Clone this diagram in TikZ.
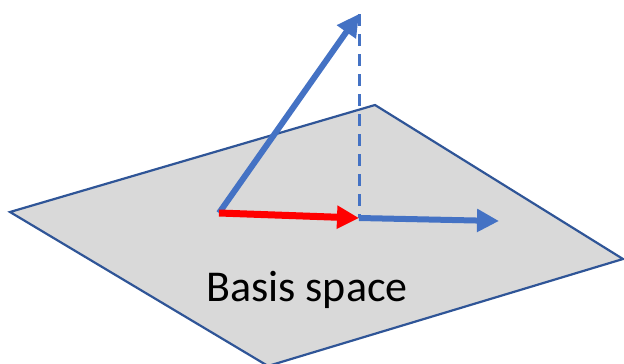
\documentclass[tikz,border=0pt]{standalone}
\usepackage{fontspec}
\setmainfont{Carlito}
\usetikzlibrary{arrows.meta}
\definecolor{vecblue}{HTML}{4472C4}
\definecolor{edgeblue}{HTML}{2F5597}
\definecolor{planegray}{HTML}{D9D9D9}
\definecolor{vecred}{HTML}{FF0000}
\tikzset{
  vec/.style={line width=6pt, -{Triangle[length=22pt,width=22pt]}},
  plane/.style={fill=planegray, draw=edgeblue, line width=2.2pt, line join=miter},
  drop/.style={vecblue, line width=3pt, dash pattern=on 12pt off 8pt}
}
\begin{document}
\begin{tikzpicture}[x=1pt,y=-1pt]
\useasboundingbox (0,0) rectangle (624,364);
\coordinate (L) at (10,212);
\coordinate (T) at (375,105);
\coordinate (R) at (623,259);
\coordinate (B) at (268,366);
\coordinate (O) at (219,213);
\coordinate (P) at (359,14);
\coordinate (F) at (359,218);
\coordinate (E) at (499,221);
\draw[plane] (L) -- (T) -- (R) -- (B) -- cycle;
\draw[drop] (P) -- (F);
\draw[vec, vecblue] (O) -- (P);
\draw[vec, vecblue] (F) -- (E);
\draw[vec, vecred, line width=7pt] (O) -- (F);
\node[font=\fontsize{44}{48}\selectfont, anchor=center] (label) at (307,290) {Basis space};
\end{tikzpicture}
\end{document}
